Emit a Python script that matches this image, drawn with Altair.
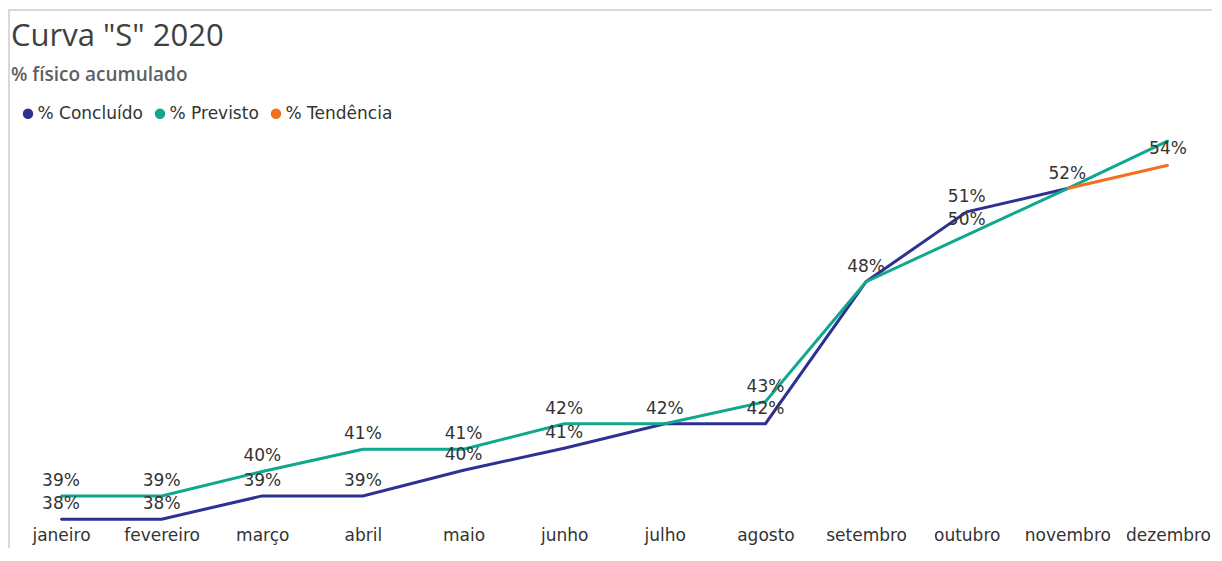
import altair as alt
import pandas as pd

# ---- data ----
meses = ["janeiro", "fevereiro", "março", "abril", "maio", "junho",
         "julho", "agosto", "setembro", "outubro", "novembro", "dezembro"]
concluido = [38.0, 38.0, 39.0, 39.0, 40.1, 41.05, 42.1, 42.1, 48.2, 51.2, 52.2]
previsto = [39.0, 39.0, 40.05, 41.0, 41.0, 42.1, 42.1, 43.05, 48.2, 50.2, 52.2, 54.25]
tendencia_meses = ["novembro", "dezembro"]
tendencia = [52.2, 53.2]

series = ["% Concluído", "% Previsto", "% Tendência"]
cores = ["#2e3192", "#0fa88e", "#f36f21"]

# ---- tables built from the lists ----
rows = []
for m, v in zip(meses, concluido):
    rows.append({"mes": m, "serie": series[0], "valor": v})
for m, v in zip(meses, previsto):
    rows.append({"mes": m, "serie": series[1], "valor": v})
for m, v in zip(tendencia_meses, tendencia):
    rows.append({"mes": m, "serie": series[2], "valor": v})
longo = pd.DataFrame(rows)

largo = pd.DataFrame({
    "mes": meses,
    "previsto": previsto,
    "concluido": concluido + [None] * (len(meses) - len(concluido)),
})

FONT = "DejaVu Sans"
TXT = "#333333"
W = 1201

x_scale = alt.Scale(type="point", range=[50, 1157], padding=0)
x_enc = alt.X("mes:N", sort=meses, scale=x_scale,
              axis=alt.Axis(title=None, domain=False, ticks=False, grid=False,
                            labelAngle=0, labelFont=FONT, labelFontSize=17,
                            labelColor=TXT, labelPadding=2))
y_scale = alt.Scale(domain=[37.75, 54.8], nice=False, zero=False)

base = alt.Chart(longo)

legenda_pts = base.mark_circle(size=4, opacity=1).encode(
    x=x_enc,
    y=alt.Y("valor:Q", scale=y_scale, axis=None),
    color=alt.Color("serie:N", scale=alt.Scale(domain=series, range=cores),
                    legend=alt.Legend(orient="none", legendX=8.5, legendY=-23,
                                      direction="horizontal", title=None,
                                      symbolType="circle", symbolSize=80,
                                      symbolOpacity=1,
                                      labelFont=FONT, labelFontSize=17,
                                      labelColor=TXT, columnPadding=8,
                                      labelOffset=1, padding=0)),
)

linhas = base.mark_line(strokeWidth=3).encode(
    x=x_enc,
    y=alt.Y("valor:Q", scale=y_scale, axis=None),
    color=alt.Color("serie:N", scale=alt.Scale(domain=series, range=cores),
                    legend=None),
)

txt = dict(font=FONT, fontSize=17, color=TXT, align="center", baseline="middle")

rot_prev = alt.Chart(largo).transform_filter(
    "datum.mes != 'dezembro'"
).transform_calculate(
    lab="format(datum.previsto, '.0f') + '%'"
).mark_text(dy=-15, **txt).encode(
    x=alt.X("mes:N", sort=meses, scale=x_scale),
    y=alt.Y("previsto:Q", scale=y_scale, axis=None),
    text="lab:N")

rot_prev_dez = alt.Chart(largo).transform_filter(
    "datum.mes == 'dezembro'"
).transform_calculate(
    lab="format(datum.previsto, '.0f') + '%'"
).mark_text(dy=8, **txt).encode(
    x=alt.X("mes:N", sort=meses, scale=x_scale),
    y=alt.Y("previsto:Q", scale=y_scale, axis=None),
    text="lab:N")

rot_conc = alt.Chart(largo).transform_filter(
    "isValid(datum.concluido) && datum.concluido != datum.previsto"
).transform_calculate(
    lab="format(datum.concluido, '.0f') + '%'"
).mark_text(dy=-15, **txt).encode(
    x=alt.X("mes:N", sort=meses, scale=x_scale),
    y=alt.Y("concluido:Q", scale=y_scale, axis=None),
    text="lab:N")

um = pd.DataFrame({"k": [0]})
borda_esq = alt.Chart(um).mark_rule(color="#d9d9d9", strokeWidth=2).encode(
    x=alt.value(-2), y=alt.value(-119), y2=alt.value(420))
borda_top = alt.Chart(um).mark_rule(color="#d9d9d9", strokeWidth=2).encode(
    x=alt.value(-2), x2=alt.value(W), y=alt.value(-118))

chart = alt.layer(
    borda_esq, borda_top, legenda_pts, linhas, rot_conc, rot_prev, rot_prev_dez
).properties(
    width=W, height=397,
    padding={"left": 0, "top": 0, "right": 0, "bottom": 0},
    title=alt.TitleParams(
        text='Curva "S" 2020', subtitle="% físico acumulado",
        anchor="start", frame="group", orient="top",
        font="Open Sans", fontSize=31, fontWeight="normal", color="#404040",
        subtitleFont="Open Sans", subtitleFontSize=19, subtitleFontWeight=600,
        subtitleColor="#5f5f5f", subtitlePadding=13, offset=-78),
).configure_view(strokeWidth=0)

chart.save("out.html", embed_options={"renderer": "svg", "actions": False})
